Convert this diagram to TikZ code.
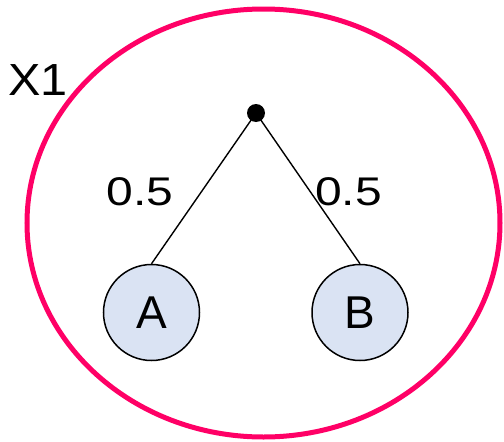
\documentclass[tikz,border=0pt]{standalone}
\usepackage{fontspec}
\setmainfont{Liberation Sans}
\definecolor{ringpink}{HTML}{FF0066}
\definecolor{leaffill}{HTML}{DAE3F3}
\begin{document}
\begin{tikzpicture}[x=1pt,y=-1pt,
  leaf/.style={circle,draw=black,line width=1.5pt,fill=leaffill,minimum size=96pt,inner sep=0pt,font=\fontsize{46}{50}\selectfont},
  edge/.style={line width=1.4pt},
  weight/.style={anchor=base,font=\fontsize{40}{46}\selectfont,xscale=1.2},
]
\useasboundingbox (0,0) rectangle (504,442);
\draw[ringpink,line width=5pt] (263.5,223) ellipse [x radius=236.5, y radius=214];
\node[anchor=base,font=\fontsize{45}{50}\selectfont,xscale=1.08] (x1) at (38,95) {X1};
\node[leaf] (A) at (151.5,312.5) {A};
\node[leaf] (B) at (360,312.5) {B};
\node[circle,fill=black,minimum size=18pt,inner sep=0pt] (root) at (256,113) {};
\draw[edge] (root.center) -- (A.north);
\draw[edge] (root.center) -- (B.north);
\node[weight] (wa) at (140,205) {0.5};
\node[weight] (wb) at (348.5,205) {0.5};
\end{tikzpicture}
\end{document}
